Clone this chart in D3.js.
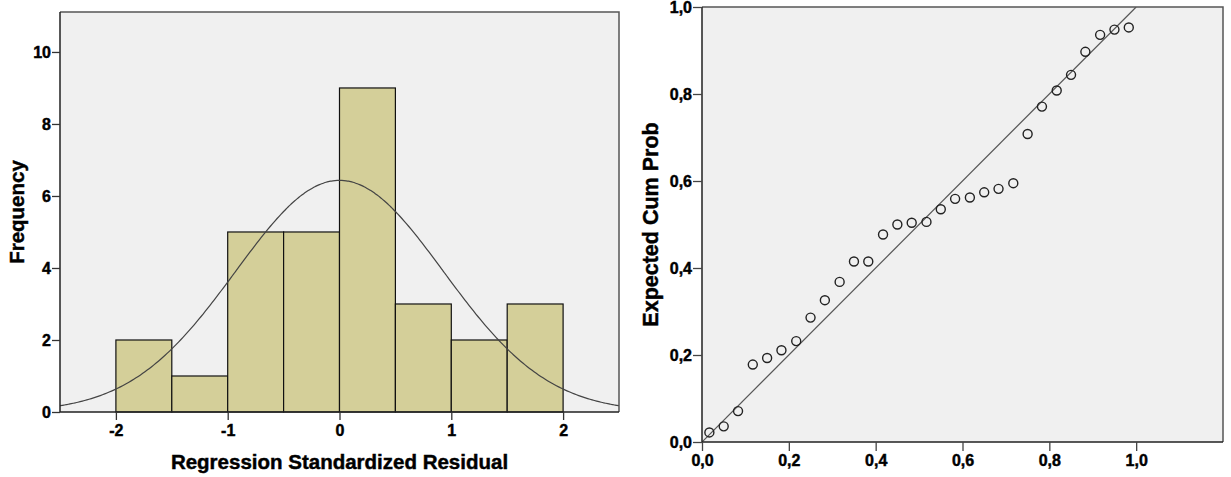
<!DOCTYPE html>
<html>
<head>
<meta charset="utf-8">
<script src="https://cdn.jsdelivr.net/npm/d3@7"></script>
<style>
  html, body { margin: 0; padding: 0; background: #ffffff; }
  svg { display: block; }
  text { font-family: "Liberation Sans", Arial, sans-serif; font-weight: bold; fill: #000;
         stroke: #000; stroke-width: 0.45px; }
</style>
</head>
<body>
<svg id="chart" width="1231" height="477"></svg>
<script>
// ---------- Data: histogram ----------
const binStarts = [-2.0, -1.5, -1.0, -0.5, 0.0, 0.5, 1.0, 1.5];
const binWidth = 0.5;
const frequencies = [2, 1, 5, 5, 9, 3, 2, 3];
const histXTicks = [-2, -1, 0, 1, 2];
const histYTicks = [0, 2, 4, 6, 8, 10];
// Normal curve parameters
const normalMean = 0.0;
const normalSD = 0.93;
const normalN = 30;

// ---------- Data: P-P plot ----------
const observedCumProb = [0.017, 0.050, 0.083, 0.117, 0.150, 0.183, 0.217, 0.250, 0.283, 0.317,
                         0.350, 0.383, 0.417, 0.450, 0.483, 0.517, 0.550, 0.583, 0.617, 0.650,
                         0.683, 0.717, 0.750, 0.783, 0.817, 0.850, 0.883, 0.917, 0.950, 0.983];
const expectedCumProb = [0.022, 0.036, 0.071, 0.178, 0.193, 0.211, 0.232, 0.286, 0.326, 0.368,
                         0.415, 0.415, 0.477, 0.500, 0.504, 0.506, 0.535, 0.559, 0.562, 0.574,
                         0.582, 0.595, 0.708, 0.771, 0.808, 0.844, 0.897, 0.936, 0.948, 0.953];
const ppTicks = [0, 0.2, 0.4, 0.6, 0.8, 1.0];

const svg = d3.select("#chart");
const commaFmt = v => d3.format(".1f")(v).replace(".", ",");
const intFmt = v => String(v);   // plain hyphen-minus like the reference

// ================= LEFT: Histogram =================
(function () {
  const L = 60, R = 619, T = 12, B = 412;
  const x = d3.scaleLinear().domain([-2.5, 2.5]).range([L, R]);
  const y = d3.scaleLinear().domain([0, 11.11]).range([B, T]);
  const g = svg.append("g");

  g.append("rect").attr("x", L).attr("y", T).attr("width", R - L).attr("height", B - T)
    .attr("fill", "#f0f0f0");

  g.selectAll("rect.bar").data(binStarts).join("rect").attr("class", "bar")
    .attr("x", d => x(d))
    .attr("y", (d, i) => y(frequencies[i]))
    .attr("width", d => x(d + binWidth) - x(d))
    .attr("height", (d, i) => B - y(frequencies[i]))
    .attr("fill", "#d4cf99").attr("stroke", "#111").attr("stroke-width", 1.2);

  const curveX = d3.range(-2.5, 2.5001, 0.02);
  const pdf = v => normalN * binWidth / (normalSD * Math.sqrt(2 * Math.PI)) *
    Math.exp(-0.5 * Math.pow((v - normalMean) / normalSD, 2));
  g.append("path").datum(curveX)
    .attr("d", d3.line().x(d => x(d)).y(d => y(pdf(d))).curve(d3.curveBasis))
    .attr("fill", "none").attr("stroke", "#444").attr("stroke-width", 1.2);

  // frame
  g.append("path").attr("d", `M${L},${T}H${R}V${B}`).attr("fill", "none")
    .attr("stroke", "#555").attr("stroke-width", 1.5);
  g.append("path").attr("d", `M${L},${T}V${B}H${R}`).attr("fill", "none")
    .attr("stroke", "#222").attr("stroke-width", 1.5);

  const ya = d3.axisLeft(y).tickValues(histYTicks).tickSize(8).tickPadding(1).tickFormat(intFmt);
  const yg = g.append("g").attr("transform", `translate(${L},0)`).call(ya);
  yg.select(".domain").remove();
  yg.selectAll("line").attr("stroke", "#333").attr("stroke-width", 1.3);
  yg.selectAll("text").style("font-size", "16px").attr("dy", "0.36em");

  const xa = d3.axisBottom(x).tickValues(histXTicks).tickSize(8).tickPadding(5).tickFormat(intFmt);
  const xg = g.append("g").attr("transform", `translate(0,${B})`).call(xa);
  xg.select(".domain").remove();
  xg.selectAll("line").attr("stroke", "#333").attr("stroke-width", 1.3);
  xg.selectAll("text").style("font-size", "16px");

  g.append("text").attr("x", (L + R) / 2).attr("y", 469).attr("text-anchor", "middle")
    .style("font-size", "20.5px").text("Regression Standardized Residual");
  g.append("text").attr("transform", `translate(24,${(T + B) / 2}) rotate(-90)`)
    .attr("text-anchor", "middle").style("font-size", "20.5px").text("Frequency");
})();

// ================= RIGHT: P-P plot =================
(function () {
  const L = 702, R = 1223, T = 7, B = 442;
  const x = d3.scaleLinear().domain([0, 1.2]).range([L, R]);
  const y = d3.scaleLinear().domain([0, 1]).range([B, T]);
  const g = svg.append("g");

  g.append("rect").attr("x", L).attr("y", T).attr("width", R - L).attr("height", B - T)
    .attr("fill", "#f0f0f0");

  g.append("clipPath").attr("id", "ppclip").append("rect")
    .attr("x", L).attr("y", T).attr("width", R - L).attr("height", B - T);

  g.append("line").attr("clip-path", "url(#ppclip)")
    .attr("x1", x(0)).attr("y1", y(0)).attr("x2", x(1)).attr("y2", y(1))
    .attr("stroke", "#555").attr("stroke-width", 1.2);

  g.selectAll("circle").data(observedCumProb).join("circle")
    .attr("cx", d => x(d)).attr("cy", (d, i) => y(expectedCumProb[i]))
    .attr("r", 4.5).attr("fill", "none").attr("stroke", "#222").attr("stroke-width", 1.4);

  g.append("path").attr("d", `M${L},${T}H${R}V${B}`).attr("fill", "none")
    .attr("stroke", "#555").attr("stroke-width", 1.5);
  g.append("path").attr("d", `M${L},${T}V${B}H${R}`).attr("fill", "none")
    .attr("stroke", "#222").attr("stroke-width", 1.5);

  const ya = d3.axisLeft(y).tickValues(ppTicks).tickSize(9).tickPadding(1).tickFormat(commaFmt);
  const yg = g.append("g").attr("transform", `translate(${L},0)`).call(ya);
  yg.select(".domain").remove();
  yg.selectAll("line").attr("stroke", "#444").attr("stroke-width", 1.3);
  yg.selectAll("text").style("font-size", "16px").attr("dy", "0.36em");

  const xa = d3.axisBottom(x).tickValues(ppTicks).tickSize(9).tickPadding(4).tickFormat(commaFmt);
  const xg = g.append("g").attr("transform", `translate(0,${B})`).call(xa);
  xg.select(".domain").remove();
  xg.selectAll("line").attr("stroke", "#444").attr("stroke-width", 1.3);
  xg.selectAll("text").style("font-size", "16px");

  g.append("text").attr("transform", `translate(658,${(T + B) / 2}) rotate(-90)`)
    .attr("text-anchor", "middle").style("font-size", "21.5px").text("Expected Cum Prob");
})();
</script>
</body>
</html>
